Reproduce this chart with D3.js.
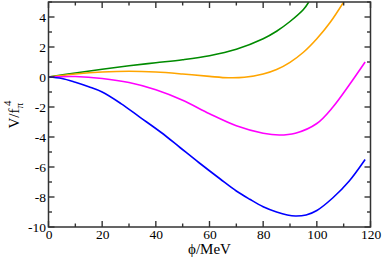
<!DOCTYPE html>
<html>
<head>
<meta charset="utf-8">
<script src="https://cdn.jsdelivr.net/npm/d3@7"></script>
<style>
  body { margin: 0; background: #fff; }
  svg { display: block; }
</style>
</head>
<body>
<div class="graph"></div>
<script>
// data (phi in MeV, V/f_pi^4)
const greenPhi  = [0, 10, 20, 30, 40, 50, 60, 70, 80, 85, 90, 95, 97];
const greenV    = [0, 0.27, 0.52, 0.75, 0.95, 1.15, 1.42, 1.85, 2.55, 3.05, 3.7, 4.5, 5.0];
const orangePhi = [0, 10, 20, 30, 40, 50, 60, 67, 73, 80, 85, 90, 95, 100, 105, 110];
const orangeV   = [0, 0.2, 0.33, 0.38, 0.33, 0.2, 0.04, -0.05, -0.02, 0.2, 0.5, 0.98, 1.65, 2.55, 3.65, 5.0];
const magentaPhi = [0, 10, 20, 30, 40, 50, 60, 70, 80, 86, 92, 100, 106, 112, 118];
const magentaV   = [0, 0.03, -0.1, -0.37, -0.85, -1.55, -2.45, -3.25, -3.75, -3.87, -3.75, -3.1, -2.0, -0.55, 1.0];
const bluePhi = [0, 5, 10, 15, 20, 27, 34, 42, 49, 56, 64, 70, 75, 80, 85, 89, 92, 96, 100, 106, 112, 118];
const blueV   = [0, -0.1, -0.35, -0.65, -1.0, -1.77, -2.67, -3.7, -4.7, -5.7, -6.8, -7.6, -8.15, -8.65, -9.0, -9.2, -9.27, -9.2, -8.9, -8.05, -6.95, -5.5];

const xTicks = [0, 20, 40, 60, 80, 100, 120];
const yTicks = [-10, -8, -6, -4, -2, 0, 2, 4];
const xMinor = [10, 30, 50, 70, 90, 110];
const yMinor = [-9, -7, -5, -3, -1, 1, 3, 5];

const series = [
  { phi: greenPhi, v: greenV, colour: "#008b00" },
  { phi: orangePhi, v: orangeV, colour: "#ffa500" },
  { phi: magentaPhi, v: magentaV, colour: "#ff00ff" },
  { phi: bluePhi, v: blueV, colour: "#0000ff" }
];

const FONT = "'Liberation Serif', 'DejaVu Serif', serif";

// dimensions
const W = 382, H = 258;
const margin = { top: 2, right: 11.5, bottom: 31, left: 48.5 };
const width = W - margin.left - margin.right;
const height = H - margin.top - margin.bottom;

const svg = d3.select(".graph")
  .append("svg")
  .attr("width", W)
  .attr("height", H);

const g = svg.append("g")
  .attr("transform", "translate(" + margin.left + "," + margin.top + ")");

const x = d3.scaleLinear().domain([0, 120]).range([0, width]);
const y = d3.scaleLinear().domain([-10, 5]).range([height, 0]);

g.append("clipPath").attr("id", "clip")
  .append("rect").attr("width", width).attr("height", height);

// curves
const line = d3.line()
  .x(d => x(d[0]))
  .y(d => y(d[1]))
  .curve(d3.curveCatmullRom.alpha(0.5));

series.forEach(s => {
  g.append("path")
    .datum(d3.zip(s.phi, s.v))
    .attr("clip-path", "url(#clip)")
    .attr("fill", "none")
    .attr("stroke", s.colour)
    .attr("stroke-width", 1.6)
    .attr("d", line);
});

const axisColour = "#333";

// tick marks pointing inward on all four sides
const ticks = g.append("g").attr("stroke", axisColour).attr("stroke-width", 1.4);
function xTickMarks(vals, len) {
  ticks.selectAll(null).data(vals).join("line")
    .attr("x1", d => x(d)).attr("x2", d => x(d))
    .attr("y1", height).attr("y2", height - len);
  ticks.selectAll(null).data(vals).join("line")
    .attr("x1", d => x(d)).attr("x2", d => x(d))
    .attr("y1", 0).attr("y2", len);
}
function yTickMarks(vals, len) {
  ticks.selectAll(null).data(vals).join("line")
    .attr("y1", d => y(d)).attr("y2", d => y(d))
    .attr("x1", 0).attr("x2", len);
  ticks.selectAll(null).data(vals).join("line")
    .attr("y1", d => y(d)).attr("y2", d => y(d))
    .attr("x1", width).attr("x2", width - len);
}
xTickMarks(xTicks, 6);
xTickMarks(xMinor, 3.5);
yTickMarks(yTicks, 6);
yTickMarks(yMinor, 3.5);

// tick labels
function styleAxis(sel) {
  sel.attr("font-family", FONT).attr("font-size", 13.5);
  sel.select(".domain").remove();
  sel.selectAll("line").remove();
  sel.selectAll("text").attr("fill", "#000");
}
g.append("g").attr("transform", "translate(0," + height + ")")
  .call(d3.axisBottom(x).tickValues(xTicks).tickSize(0).tickPadding(2.5).tickFormat(d3.format("d")))
  .call(styleAxis);
g.append("g")
  .call(d3.axisLeft(y).tickValues(yTicks).tickSize(0).tickPadding(2.5).tickFormat(d => d3.format("d")(d).replace("−", "-")))
  .call(styleAxis);

// frame
g.append("rect")
  .attr("width", width)
  .attr("height", height)
  .attr("fill", "none")
  .attr("stroke", axisColour)
  .attr("stroke-width", 1.5);

// axis titles
svg.append("text")
  .attr("x", margin.left + width / 2)
  .attr("y", 254)
  .attr("text-anchor", "middle")
  .attr("font-family", FONT)
  .attr("font-size", 15)
  .text("ϕ/MeV");

const yLab = svg.append("text")
  .attr("transform", "translate(19," + (margin.top + height / 2) + ") rotate(-90)")
  .attr("text-anchor", "middle")
  .attr("font-family", FONT)
  .attr("font-size", 15);
yLab.append("tspan").text("V/f");
yLab.append("tspan").attr("dy", 4).attr("font-size", 11).text("π");
yLab.append("tspan").attr("dy", -12).attr("dx", -3).attr("font-size", 11).text("4");
</script>
</body>
</html>
